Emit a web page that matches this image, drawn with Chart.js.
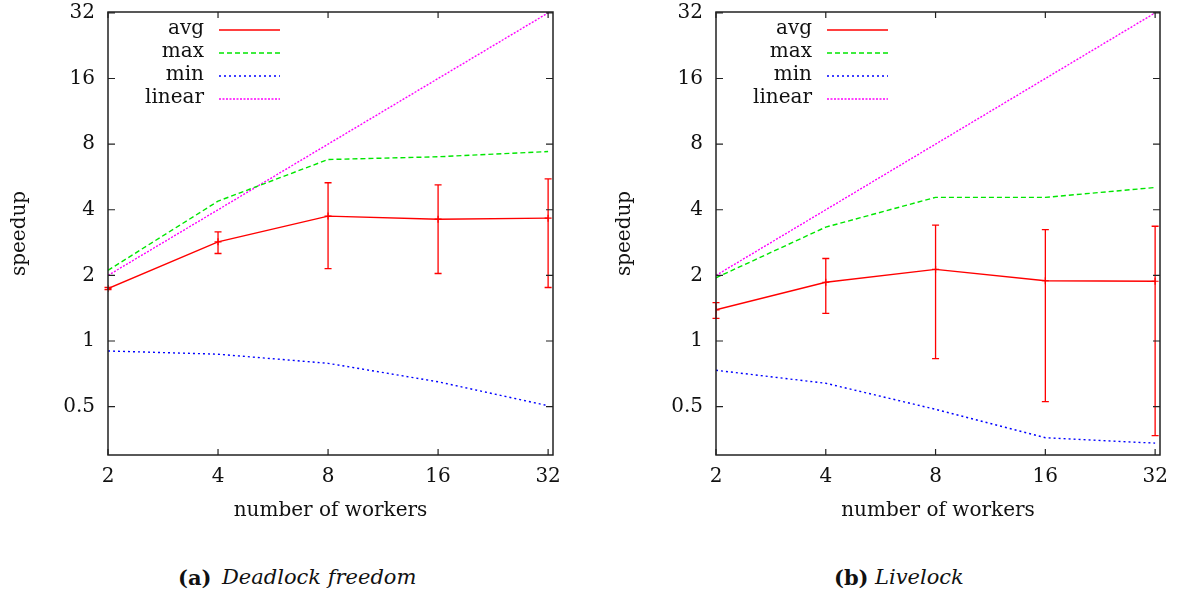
<!DOCTYPE html>
<html>
<head>
<meta charset="utf-8">
<script src="https://cdn.jsdelivr.net/npm/chart.js@4.4.1/dist/chart.umd.min.js"></script>
<style>
  body { margin: 0; background: #fff; width: 1183px; height: 595px; overflow: hidden; position: relative; font-family: "DejaVu Serif", serif; color: #111; }
  .box { position: absolute; top: 0; height: 545px; }
  #boxA { left: 0; width: 595px; }
  #boxB { left: 595px; width: 588px; }
  .cap { position: absolute; top: 567px; font-size: 21px; line-height: 1; white-space: nowrap; }
  .cap.b { font-weight: bold; }
  .cap.i { font-style: italic; }
</style>
</head>
<body>
<div class="box" id="boxA"><canvas id="chartA"></canvas></div>
<div class="box" id="boxB"><canvas id="chartB"></canvas></div>
<div class="cap b" style="left:178px">(a)</div>
<div class="cap i" style="left:222px">Deadlock freedom</div>
<div class="cap b" style="left:834px">(b)</div>
<div class="cap i" style="left:875px">Livelock</div>
<script>
const workers = [2, 4, 8, 16, 32];
const yTicks = [0.5, 1, 2, 4, 8, 16, 32];

// (a) deadlock freedom
const deadlockAvg = [1.74, 2.85, 3.74, 3.62, 3.66];
const deadlockAvgLow = [1.72, 2.52, 2.15, 2.04, 1.76];
const deadlockAvgHigh = [1.76, 3.17, 5.32, 5.2, 5.54];
const deadlockMax = [2.11, 4.38, 6.8, 7.0, 7.4];
const deadlockMin = [0.90, 0.87, 0.79, 0.65, 0.505];

// (b) livelock
const livelockAvg = [1.39, 1.86, 2.13, 1.89, 1.88];
const livelockAvgLow = [1.27, 1.34, 0.83, 0.527, 0.368];
const livelockAvgHigh = [1.50, 2.39, 3.40, 3.24, 3.36];
const livelockMax = [1.95, 3.33, 4.56, 4.56, 5.06];
const livelockMin = [0.734, 0.64, 0.486, 0.36, 0.34];

const linear = [2, 4, 8, 16, 32];

const axisFont = { family: 'DejaVu Serif', size: 20 };
const ink = '#111';

const pts = vals => workers.map((w, i) => ({ x: w, y: vals[i] }));

// gnuplot look: box border, inward ticks on all sides, error bars, key
const gnuplotLook = {
    id: 'gnuplotLook',
    afterDatasetsDraw(chart) {
        const { ctx, scales: { x, y } } = chart;
        ctx.save();
        chart.data.datasets.forEach(ds => {
            if (!ds.errLow) return;
            ctx.strokeStyle = ds.borderColor;
            ctx.lineWidth = 1.3;
            workers.forEach((w, i) => {
                const px = x.getPixelForValue(w);
                const top = y.getPixelForValue(ds.errHigh[i]);
                const bot = y.getPixelForValue(ds.errLow[i]);
                ctx.beginPath();
                ctx.moveTo(px, top); ctx.lineTo(px, bot);
                ctx.moveTo(px - 3.5, top); ctx.lineTo(px + 3.5, top);
                ctx.moveTo(px - 3.5, bot); ctx.lineTo(px + 3.5, bot);
                ctx.stroke();
            });
        });
        ctx.restore();
    },
    afterDraw(chart) {
        const { ctx, chartArea: a, scales: { x, y } } = chart;
        ctx.save();
        ctx.strokeStyle = '#222';
        ctx.lineWidth = 1.5;
        ctx.setLineDash([]);
        ctx.strokeRect(a.left, a.top, a.right - a.left, a.bottom - a.top);
        ctx.lineWidth = 1.2;
        ctx.beginPath();
        workers.forEach(w => {
            const px = x.getPixelForValue(w);
            ctx.moveTo(px, a.bottom); ctx.lineTo(px, a.bottom - 6);
            ctx.moveTo(px, a.top); ctx.lineTo(px, a.top + 6);
        });
        yTicks.forEach(v => {
            const py = y.getPixelForValue(v);
            ctx.moveTo(a.left, py); ctx.lineTo(a.left + 7, py);
            ctx.moveTo(a.right, py); ctx.lineTo(a.right - 7, py);
        });
        ctx.stroke();

        // key
        ctx.font = '20px "DejaVu Serif"';
        ctx.fillStyle = ink;
        ctx.textAlign = 'right';
        ctx.textBaseline = 'middle';
        chart.data.datasets.forEach((ds, i) => {
            const yy = a.top + 17 + i * 23;
            ctx.fillText(ds.label, a.left + 96, yy);
            ctx.strokeStyle = ds.borderColor;
            ctx.lineWidth = ds.borderWidth;
            ctx.setLineDash(ds.borderDash || []);
            ctx.beginPath();
            ctx.moveTo(a.left + 111, yy + 1);
            ctx.lineTo(a.left + 172, yy + 1);
            ctx.stroke();
        });
        ctx.restore();
    }
};

function makeChart(id, avg, lo, hi, max, min, yWidth, titlePad, padRight) {
    return new Chart(document.getElementById(id), {
        type: 'line',
        data: {
            datasets: [
                { label: 'avg', data: pts(avg), borderColor: '#ff0000', borderWidth: 1.4,
                  pointStyle: 'cross', pointRadius: 3.5, pointBorderColor: '#ff0000', pointBorderWidth: 1.2,
                  errLow: lo, errHigh: hi },
                { label: 'max', data: pts(max), borderColor: '#00e600', borderWidth: 1.4,
                  borderDash: [5, 3], pointRadius: 0 },
                { label: 'min', data: pts(min), borderColor: '#0000ff', borderWidth: 1.4,
                  borderDash: [2, 3], pointRadius: 0 },
                { label: 'linear', data: pts(linear), borderColor: '#ff00ff', borderWidth: 1.4,
                  borderDash: [2, 1.5], pointRadius: 0 }
            ]
        },
        options: {
            responsive: true,
            maintainAspectRatio: false,
            animation: false,
            layout: { padding: { top: 12, right: padRight, left: 0, bottom: 0 } },
            plugins: { legend: { display: false }, tooltip: { enabled: false } },
            elements: { line: { tension: 0 } },
            scales: {
                x: {
                    type: 'logarithmic', min: 2, max: 33,
                    afterBuildTicks: s => { s.ticks = workers.map(v => ({ value: v })); },
                    afterFit: s => { s.height = 90; s.paddingLeft = 0; s.paddingRight = 0; },
                    grid: { display: false, drawTicks: false },
                    border: { display: false },
                    ticks: { font: axisFont, color: ink, padding: 10, maxRotation: 0, autoSkip: false,
                             callback: v => String(v) },
                    title: { display: true, text: 'number of workers', font: axisFont, color: ink,
                             padding: { top: 0, bottom: 22 } }
                },
                y: {
                    type: 'logarithmic', min: 0.3, max: 32.3,
                    afterBuildTicks: s => { s.ticks = yTicks.map(v => ({ value: v })); },
                    afterFit: s => { s.width = yWidth; s.paddingTop = 0; s.paddingBottom = 0; },
                    grid: { display: false, drawTicks: false },
                    border: { display: false },
                    ticks: { font: axisFont, color: ink, padding: 13, autoSkip: false,
                             callback: v => String(v) },
                    title: { display: true, text: 'speedup', font: axisFont, color: ink,
                             padding: { top: titlePad, bottom: 0 } }
                }
            }
        },
        plugins: [gnuplotLook]
    });
}

makeChart('chartA', deadlockAvg, deadlockAvgLow, deadlockAvgHigh, deadlockMax, deadlockMin, 108, 8, 42);
makeChart('chartB', livelockAvg, livelockAvgLow, livelockAvgHigh, livelockMax, livelockMin, 121, 18, 23);
</script>
</body>
</html>
